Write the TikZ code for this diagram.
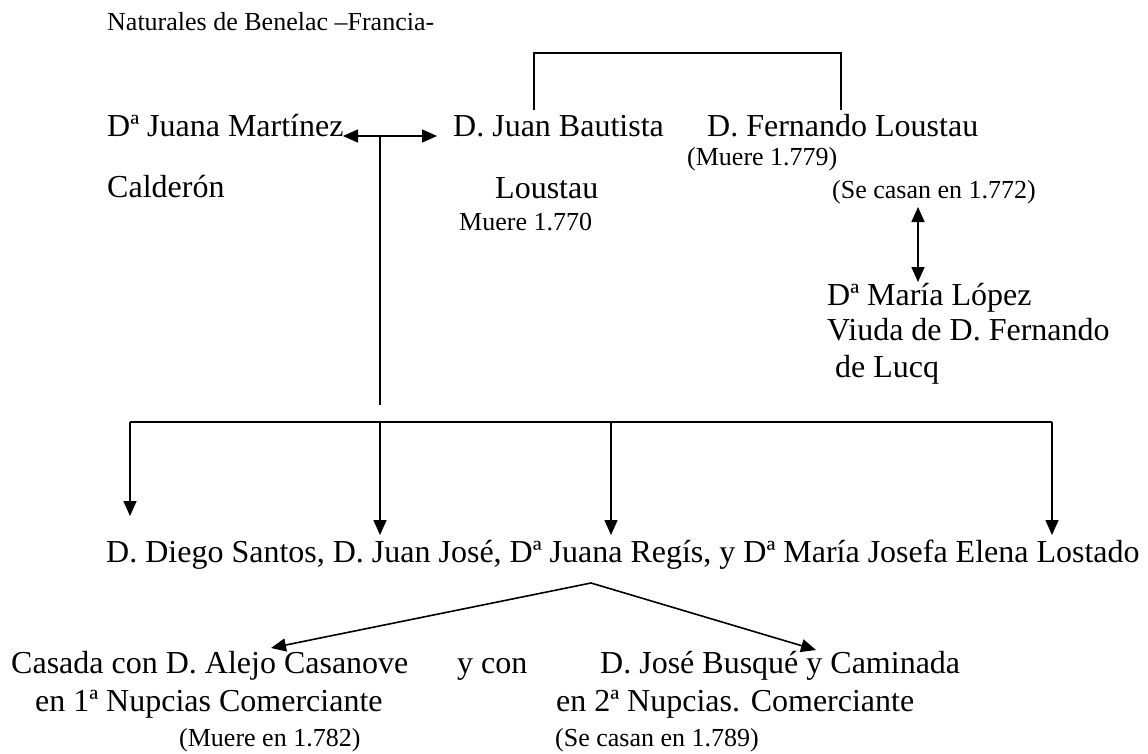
\documentclass[tikz,border=0pt]{standalone}
\usepackage{fontspec}
\setmainfont{Liberation Serif}
\usetikzlibrary{arrows.meta}
\begin{document}
\begin{tikzpicture}[x=1pt,y=-1pt,
  big/.style={font=\fontsize{32}{38}\selectfont, inner sep=0pt, anchor=base west},
  small/.style={font=\fontsize{26}{30}\selectfont, inner sep=0pt, anchor=base west},
  conn/.style={line width=1.6pt},
  arr/.style={conn, -{Triangle[length=15pt,width=13pt]}},
  dbl/.style={conn, {Triangle[length=15pt,width=13pt]}-{Triangle[length=15pt,width=13pt]}}]
\useasboundingbox (0,0) rectangle (1148,754);
% texts
\node[small] (nat) at (107,31) {Naturales de Benelac –Francia-};
\node[big] (juana) at (107,137) {Dª Juana Martínez};
\node[big] (cald) at (107,197) {Calderón};
\node[big] (jb) at (453,137) {D. Juan Bautista};
\node[big] (lou) at (495,199) {Loustau};
\node[small] (m1770) at (459,230) {Muere 1.770};
\node[big] (fer) at (707,137) {D. Fernando Loustau};
\node[small] (m1779) at (687,166) {(Muere 1.779)};
\node[small] (sc1772) at (832,199) {(Se casan en 1.772)};
\node[big] (maria) at (827,305) {Dª María López};
\node[big] (viuda) at (827,340) {Viuda de D. Fernando};
\node[big] (lucq) at (835,377) {de Lucq};
\node[big] (kids) at (106,562) {D. Diego Santos, D. Juan José, Dª Juana Regís, y Dª María Josefa Elena Lostado};
\node[big] (cas) at (11,673) {Casada con D. Alejo Casanove};
\node[big] (ycon) at (457,673) {y con};
\node[big] (jose) at (600,673) {D. José Busqué y Caminada};
\node[big] (n1) at (35,711) {en 1ª Nupcias Comerciante};
\node[big] (n2) at (556,711) {en 2ª Nupcias. Comerciante};
\node[small] (m1782) at (179,746) {(Muere en 1.782)};
\node[small] (sc1789) at (555,746) {(Se casan en 1.789)};
% coordinates
\coordinate (jL) at (343,136);
\coordinate (jR) at (437,136);
\coordinate (stemTop) at (380,136);
\coordinate (stemBot) at (380,405);
\coordinate (brL) at (534,110);
\coordinate (brR) at (841,110);
\coordinate (mTop) at (918,207);
\coordinate (mBot) at (918,282);
\coordinate (barL) at (130,422);
\coordinate (barR) at (1052,422);
\coordinate (b2) at (380,422);
\coordinate (b3) at (611,422);
\coordinate (t1) at (130,516);
\coordinate (t2) at (380,535);
\coordinate (t3) at (611,535);
\coordinate (t4) at (1052,535);
\coordinate (vTop) at (591,583);
\coordinate (vL) at (271,648);
\coordinate (vR) at (816,650);
% connectors
\draw[dbl] (jL) -- (jR);
\draw[conn] (stemTop) -- (stemBot);
\draw[conn] (brL) |- (534,53) -| (brR);
\draw[dbl] (mTop) -- (mBot);
\draw[conn, line width=2pt] (barL) -- (barR);
\draw[arr] (barL) -- (t1);
\draw[arr] (b2) -- (t2);
\draw[arr] (b3) -- (t3);
\draw[arr] (barR) -- (t4);
\draw[arr] (vTop) -- (vL);
\draw[arr] (vTop) -- (vR);
\end{tikzpicture}
\end{document}
